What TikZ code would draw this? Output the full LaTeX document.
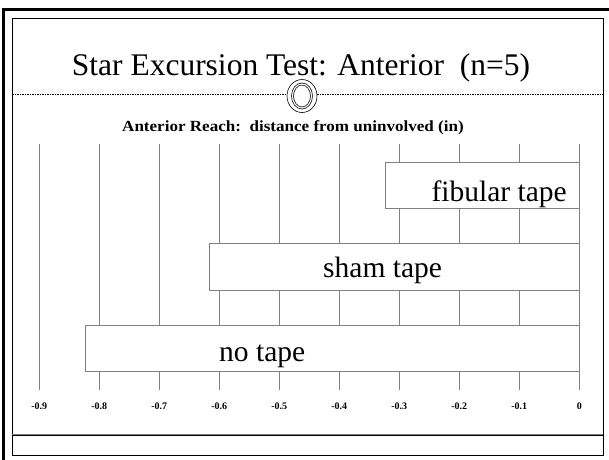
\documentclass[tikz,border=0pt]{standalone}
\usepackage{fontspec}
\setmainfont{Liberation Serif}
\usetikzlibrary{positioning}
\tikzset{gridline/.style = {draw=gray, line width=0.8}}
\tikzset{barbox/.style = {draw=gray, fill=white, line width=0.8}}
\tikzset{barlabel/.style = {inner sep=0, font=\fontsize{29.5}{30}\selectfont}}
\tikzset{ticklabel/.style = {inner sep=0, font=\fontsize{10}{11}\selectfont\bfseries}}

\begin{document}
\begin{tikzpicture}[x=1pt, y=-1pt]
        \useasboundingbox (0,0) rectangle (609,459);
        \clip (0,0) rectangle (609,459);
        % frames
        \draw [line width=3] (3.5,9.5) rectangle (615,465);
        \draw [line width=1] (12,18) rectangle (603,455);
        \draw [gray, line width=1] (12,434.5) -- (603,434.5);
        \draw [line width=0.8] (12,435.8) -- (603,435.8);
        % heading
        \node [anchor=base, inner sep=0, font=\fontsize{31.5}{32}\selectfont] (title) at (301,75) {Star Excursion Test: Anterior~~(n=5)};
        \draw [dashed, dash pattern=on 1.5 off 1, line width=0.6] (12,94) -- (603,94);
        \filldraw [fill=white, line width=0.6] (302,96) ellipse [x radius=15, y radius=16.5];
        \draw [double, double distance=1.2, line width=0.7] (302,96) ellipse [x radius=9.5, y radius=12];
        \node [anchor=base, inner sep=0, font=\fontsize{15.5}{16}\selectfont\bfseries, xscale=1.1] (subtitle) at (293,131) {Anterior Reach:~~distance from uninvolved (in)};
        % grid and axis
        \foreach \v [count=\i from 0] in {-0.9,-0.8,-0.7,-0.6,-0.5,-0.4,-0.3,-0.2,-0.1,0} {
            \draw [gridline] (39.3+60*\i,144) -- (39.3+60*\i,390);
            \node [ticklabel, anchor=base] (tick\i) at (39.3+60*\i,409) {\v};
        }
        % bars
        \draw [barbox] (385.3,162) rectangle (579.3,208);
        \draw [barbox] (209,243) rectangle (579.3,290);
        \draw [barbox] (85.7,325) rectangle (579.3,371);
        \node [barlabel, anchor=base east] (fibular) at (567,201) {fibular tape};
        \node [barlabel, anchor=base west] (sham) at (323,277) {sham tape};
        \node [barlabel, anchor=base west] (notape) at (219,361) {no tape};
    \end{tikzpicture}
\end{document}
